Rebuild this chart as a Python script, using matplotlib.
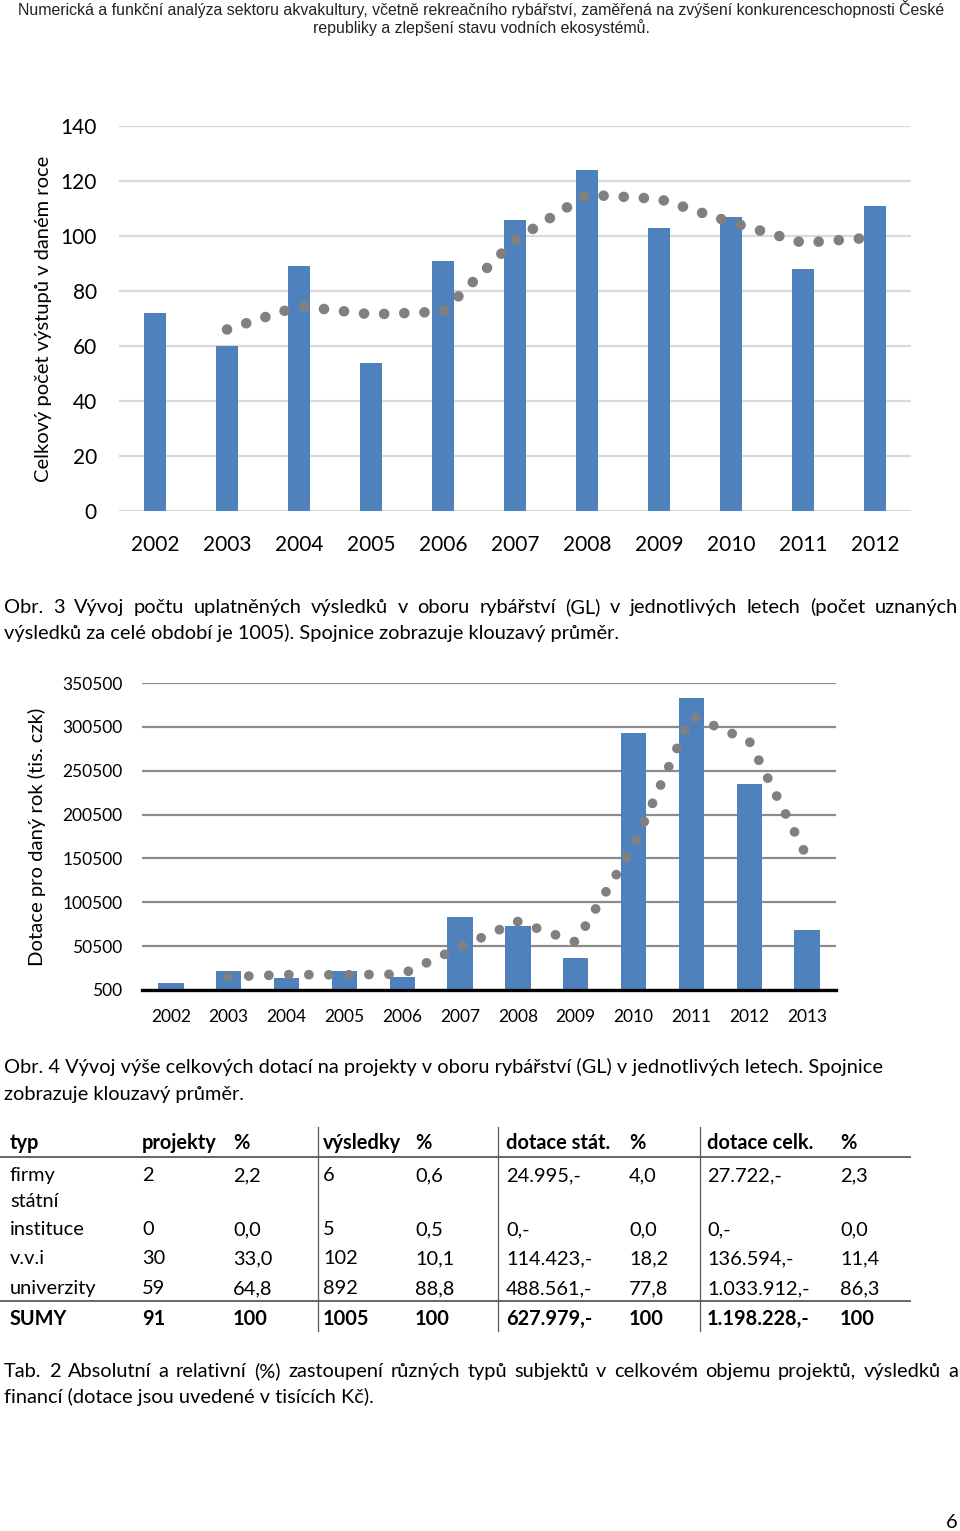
import numpy as np
import matplotlib.pyplot as plt
from matplotlib.lines import Line2D

W, H = 960, 1531

# Obr. 3 - pocet uplatnenych vysledku
roky1 = ['2002', '2003', '2004', '2005', '2006', '2007', '2008', '2009', '2010', '2011', '2012']
vysledky = [72, 60, 89, 54, 91, 106, 124, 103, 107, 88, 111]
# klouzavy prumer (2 roky), zacina od 2003
prumer1 = [66, 74.5, 71.5, 72.5, 98.5, 115, 113.5, 105, 97.5, 99.5]

# Obr. 4 - dotace (tis. Kc)
roky2 = ['2002', '2003', '2004', '2005', '2006', '2007', '2008', '2009', '2010', '2011', '2012', '2013']
dotace = [8800, 22200, 13800, 21800, 15300, 83400, 73800, 36600, 293100, 333000, 235700, 68500]
prumer2 = [15500, 18000, 17800, 18550, 49350, 78600, 55200, 164850, 313050, 284350, 152100]
ticks2 = [500, 50500, 100500, 150500, 200500, 250500, 300500, 350500]

# Tab. 2
hlavicka = ['typ', 'projekty', '%', 'výsledky', '%', 'dotace stát.', '%', 'dotace celk.', '%']
typy = ['firmy', 'instituce', 'v.v.i', 'univerzity']
projekty = ['2', '0', '30', '59']
projekty_pct = ['2,2', '0,0', '33,0', '64,8']
vysl = ['6', '5', '102', '892']
vysl_pct = ['0,6', '0,5', '10,1', '88,8']
dot_stat = ['24.995,-', '0,-', '114.423,-', '488.561,-']
dot_stat_pct = ['4,0', '0,0', '18,2', '77,8']
dot_celk = ['27.722,-', '0,-', '136.594,-', '1.033.912,-']
dot_celk_pct = ['2,3', '0,0', '11,4', '86,3']
sumy = ['SUMY', '91', '100', '1005', '100', '627.979,-', '100', '1.198.228,-', '100']

BLUE = '#4f81bd'
DOT = '#808080'
FONT = ['Lato', 'DejaVu Sans']

plt.rcParams['font.family'] = FONT

fig = plt.figure(figsize=(W / 100, H / 100), dpi=100)


def fx(x):
    return x / W


def fy(y):
    return 1 - y / H


def axes_px(left, top, right, bottom):
    return fig.add_axes([fx(left), fy(bottom), (right - left) / W, (bottom - top) / H])


# ---- header ----
hdr_kw = dict(family=['Liberation Sans', 'DejaVu Sans'], fontsize=11.45, ha='center', va='baseline', color='#222222')
fig.text(fx(481), fy(15), 'Numerická a funkční analýza sektoru akvakultury, včetně rekreačního rybářství, zaměřená na zvýšení konkurenceschopnosti České', **hdr_kw)
fig.text(fx(481), fy(33), 'republiky a zlepšení stavu vodních ekosystémů.', **hdr_kw)

# ---- chart 1 ----
ax1 = axes_px(119, 126, 911, 511)
x1 = np.arange(len(roky1))
ax1.bar(x1, vysledky, width=0.31, color=BLUE, zorder=2)
ax1.plot(x1[1:], prumer1, color=DOT, lw=7.6, linestyle=(0, (0.01, 1.9)),
         dash_capstyle='round', zorder=3)
ax1.set_xlim(-0.5, len(roky1) - 0.5)
ax1.set_ylim(0, 140)
ax1.set_yticks(np.arange(0, 141, 20))
ax1.set_xticks(x1)
ax1.set_xticklabels(roky1)
ax1.yaxis.grid(True, color='#d9d9d9', lw=1.6)
ax1.set_axisbelow(True)
for s in ax1.spines.values():
    s.set_visible(False)
ax1.tick_params(length=0, labelsize=15, colors='#000000')
ax1.tick_params(axis='y', pad=16)
ax1.tick_params(axis='x', pad=17)
ax1.set_ylabel('Celkový počet výstupů v daném roce', fontsize=14.5, labelpad=6)

# caption 1
cap_kw = dict(fontsize=14.4, va='baseline', color='#000000')


def justify(text, y, x0=4, x1=958, **kw):
    words = text.split()
    objs = [fig.text(0, 0, w, ha='left', **kw) for w in words]
    r = fig.canvas.get_renderer()
    widths = [o.get_window_extent(r).width for o in objs]
    gap = (x1 - x0 - sum(widths)) / (len(words) - 1)
    x = x0
    for o, w in zip(objs, widths):
        o.set_position((fx(x), fy(y)))
        x += w + gap


justify('Obr. 3 Vývoj počtu uplatněných výsledků v oboru rybářství (GL) v jednotlivých letech (počet uznaných', 613, **cap_kw)
fig.text(fx(4), fy(639), 'výsledků za celé období je 1005). Spojnice zobrazuje klouzavý průměr.', ha='left', **cap_kw)

# ---- chart 2 ----
ax2 = axes_px(142, 683, 836, 990)
x2 = np.arange(len(roky2))
ax2.bar(x2, dotace, width=0.44, color=BLUE, zorder=2)
ax2.plot(x2[1:], prumer2, color=DOT, lw=7.0, linestyle=(0, (0.01, 2.05)),
         dash_capstyle='round', zorder=3)
ax2.set_xlim(-0.5, len(roky2) - 0.5)
ax2.set_ylim(ticks2[0], ticks2[-1])
ax2.set_yticks(ticks2)
ax2.set_xticks(x2)
ax2.set_xticklabels(roky2)
ax2.yaxis.grid(True, color='#8c8c8c', lw=1.6)
ax2.set_axisbelow(True)
for s in ax2.spines.values():
    s.set_visible(False)
ax2.spines['bottom'].set_visible(True)
ax2.spines['bottom'].set_color('#000000')
ax2.spines['bottom'].set_linewidth(2.4)
ax2.spines['bottom'].set_zorder(4)
ax2.tick_params(length=0, labelsize=12.5, colors='#000000')
ax2.tick_params(axis='y', pad=14)
ax2.tick_params(axis='x', pad=14)
ax2.set_ylabel('Dotace pro daný rok (tis. czk)', fontsize=14.6, labelpad=12)

fig.text(fx(4), fy(1073), 'Obr. 4 Vývoj výše celkových dotací na projekty v oboru rybářství (GL) v jednotlivých letech. Spojnice', ha='left', **cap_kw)
fig.text(fx(4), fy(1100), 'zobrazuje klouzavý průměr.', ha='left', **cap_kw)

# ---- table ----
cols = [10, 142, 233, 323, 415, 506, 629, 707, 840]
tab_kw = dict(fontsize=14.4, va='baseline', ha='left', color='#000000')
for cx, t in zip(cols, hlavicka):
    fig.text(fx(cx), fy(1149), t, fontweight='bold', **tab_kw)

fig.text(fx(cols[0]), fy(1207), 'státní', **tab_kw)
row_y = [1181, 1235, 1264, 1294]
sloupce = [typy, projekty, projekty_pct, vysl, vysl_pct, dot_stat, dot_stat_pct, dot_celk, dot_celk_pct]
for cx, vals in zip(cols, sloupce):
    for ry, v in zip(row_y, vals):
        fig.text(fx(cx), fy(ry), v, **tab_kw)
for cx, t in zip(cols, sumy):
    fig.text(fx(cx), fy(1325), t, fontweight='bold', **tab_kw)

for yy in (1157, 1301):
    fig.add_artist(Line2D([fx(0), fx(910)], [fy(yy), fy(yy)], color='#595959', lw=1.3))
for xx in (318, 498, 700):
    fig.add_artist(Line2D([fx(xx), fx(xx)], [fy(1127), fy(1331)], color='#595959', lw=0.9))

justify('Tab. 2 Absolutní a relativní (%) zastoupení různých typů subjektů v celkovém objemu projektů, výsledků a', 1377, **cap_kw)
fig.text(fx(4), fy(1403), 'financí (dotace jsou uvedené v tisících Kč).', ha='left', **cap_kw)

fig.text(fx(958), fy(1528), '6', ha='right', **cap_kw)

fig.savefig('out.png', dpi=100)
